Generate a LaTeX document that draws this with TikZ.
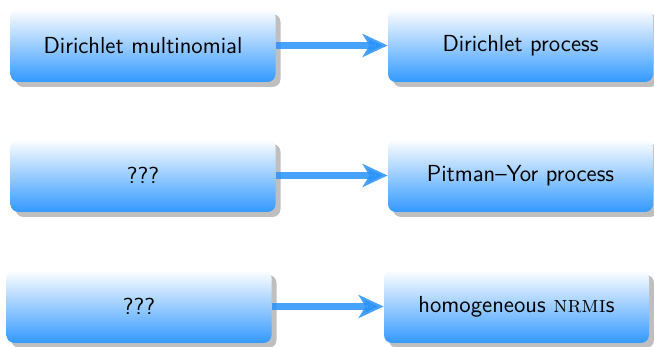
\documentclass[tikz,border=0pt]{standalone}
\usepackage{tikz}
\usetikzlibrary{shadows,arrows.meta}
\definecolor{boxblue}{RGB}{51,153,255}
\definecolor{arrowblue}{RGB}{40,145,250}

\begin{document}
\begin{tikzpicture}[x=0.5pt,y=0.5pt,
  model/.style={rectangle, rounded corners=4pt, minimum width=132.5pt, minimum height=36.5pt,
    top color=white, bottom color=boxblue, font=\sffamily\fontsize{11.6}{14}\selectfont,
    drop shadow={shadow xshift=2.5pt, shadow yshift=-2.5pt, fill=black!25, opacity=1}},
  limit/.style={-{Stealth[length=12.5pt,width=11.5pt,inset=3.5pt]}, line width=3.8pt, draw=arrowblue, opacity=.85}]
 \useasboundingbox (0,0) rectangle (654,347);
 % finite-dimensional models
 \node[model] (dm) at (143,301.5) {Dirichlet multinomial};
 \node[model] (q1) at (143,171.5) {???};
 \node[model] (q2) at (139,40.5) {???};
 % their infinite limits
 \node[model] (dp) at (520.5,301.5) {Dirichlet process};
 \node[model] (py) at (520.5,171.5) {Pitman--Yor process};
 \node[model] (nrmi) at (516.5,40.5) {homogeneous {\rmfamily\textsc{nrmi}}s};
 \draw[limit] (dm) -- (dp);
 \draw[limit] (q1) -- (py);
 \draw[limit] (q2) -- (nrmi);
\end{tikzpicture}
\end{document}
